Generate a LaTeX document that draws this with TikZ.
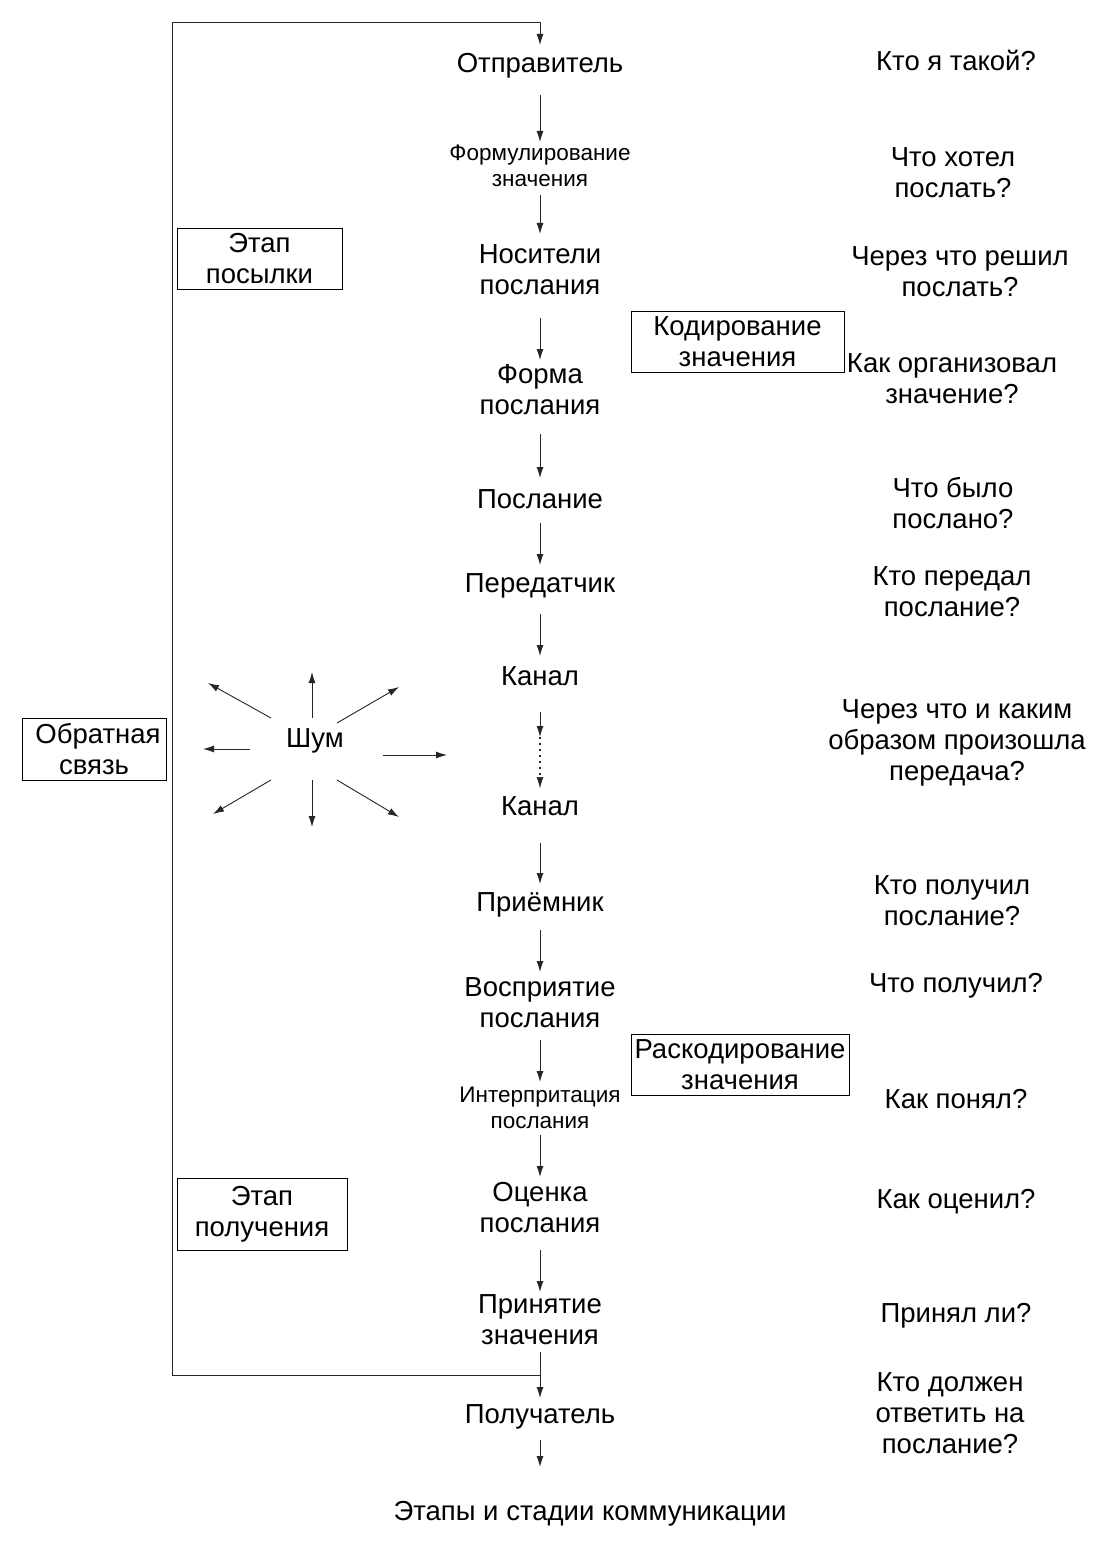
\documentclass[tikz,border=0pt]{standalone}
\usepackage{fontspec}
\setmainfont{Liberation Sans}
\usetikzlibrary{arrows.meta,calc}
\begin{document}
\begin{tikzpicture}[x=1pt,y=-1pt,
  main/.style={font=\fontsize{27.5}{31}\selectfont, align=center, inner sep=0pt},
  small/.style={font=\fontsize{22.5}{26}\selectfont, align=center, inner sep=0pt},
  ques/.style={font=\fontsize{27.5}{31}\selectfont, align=center, inner sep=0pt},
  lbox/.style={draw=black, line width=0.8pt, font=\fontsize{27.5}{31}\selectfont, align=center, inner sep=0pt},
  ln/.style={draw=black!85, line width=0.9pt},
  arr/.style={ln, -{Latex[length=11pt,width=7pt]}},
  dotarr/.style={ln, line width=1.8pt, dash pattern=on 1.8pt off 4.2pt, -{Latex[length=11pt,width=7pt,line width=0.5pt]}}
]
\useasboundingbox (0,0) rectangle (1111,1546);
\fill[white] (0,0) rectangle (1111,1546);

% main column
\node[main]  (A1)  at (540,66)   {Отправитель};
\node[small] (A2)  at (540,166)  {Формулирование\\значения};
\node[main]  (A3)  at (540,270)  {Носители\\послания};
\node[main]  (A4)  at (540,390)  {Форма\\послания};
\node[main]  (A5)  at (540,499)  {Послание};
\node[main]  (A6)  at (540,586)  {Передатчик};
\node[main]  (A7)  at (540,676)  {Канал};
\node[main]  (A8)  at (540,806)  {Канал};
\node[main]  (A9)  at (540,905)  {Приёмник};
\node[main]  (A10) at (540,1003) {Восприятие\\послания};
\node[small] (A11) at (540,1108) {Интерпритация\\послания};
\node[main]  (A12) at (540,1208) {Оценка\\послания};
\node[main]  (A13) at (540,1320) {Принятие\\значения};
\node[main]  (A14) at (540,1417) {Получатель};
\node[main] (cap) at (590,1514) {Этапы и стадии коммуникации};

% arrows of the column
\draw[arr] ($(A1.center)+(0,29)$)  -- ($(A2.center)+(0,-24)$);
\draw[arr] ($(A2.center)+(0,29)$)  -- ($(A3.center)+(0,-36)$);
\draw[arr] ($(A3.center)+(0,48)$)  -- ($(A4.center)+(0,-30)$);
\draw[arr] ($(A4.center)+(0,44)$)  -- ($(A5.center)+(0,-21)$);
\draw[arr] ($(A5.center)+(0,24)$)  -- ($(A6.center)+(0,-21)$);
\draw[arr] ($(A6.center)+(0,28)$)  -- ($(A7.center)+(0,-20)$);
\draw[arr] ($(A7.center)+(0,36)$)  -- coordinate[pos=1] (mid) ($(A7.center)+(0,61)$);
\draw[dotarr] (mid) -- ($(A8.center)+(0,-18)$);
\draw[arr] ($(A8.center)+(0,37)$)  -- ($(A9.center)+(0,-21)$);
\draw[arr] ($(A9.center)+(0,25)$)  -- ($(A10.center)+(0,-31)$);
\draw[arr] ($(A10.center)+(0,37)$) -- ($(A11.center)+(0,-26)$);
\draw[arr] ($(A11.center)+(0,27)$) -- ($(A12.center)+(0,-31)$);
\draw[arr] ($(A12.center)+(0,42)$) -- ($(A13.center)+(0,-28)$);
\draw[arr] ($(A13.center)+(0,32)$) -- ($(A14.center)+(0,-19)$);
\draw[arr] ($(A14.center)+(0,23)$) -- ($(A14.center)+(0,50)$);

% feedback loop
\coordinate (fbB)  at (540,1375);
\coordinate (fbL1) at (172,1375);
\coordinate (fbL2) at (172,22);
\coordinate (fbT)  at (540,22);
\draw[arr] (fbB) -- (fbL1) -- (fbL2) -- (fbT) -- ($(A1.center)+(0,-21)$);

% label boxes
\node[lbox, minimum width=165pt, minimum height=61pt] (B1) at (259.5,258.5) {Этап\\посылки};
\node[lbox, minimum width=213pt, minimum height=61pt] (B2) at (737.5,341.5) {Кодирование\\значения};
\node[lbox, minimum width=144pt, minimum height=62pt] (B3) at (94,749) {\hspace*{8pt}Обратная\\связь};
\node[lbox, minimum width=218pt, minimum height=61pt] (B4) at (740,1064.5) {Раскодирование\\значения};
\node[lbox, minimum width=170pt, minimum height=72pt] (B5) at (262,1214) {Этап\\получения};

% noise
\node[main] (N) at (315,741) {Шум};
\draw[arr] ($(N.center)+(-3,-23)$) -- ($(N.center)+(-3,-69)$);
\draw[arr] ($(N.center)+(-3,39)$)  -- ($(N.center)+(-3,86)$);
\draw[arr] ($(N.center)+(-65,8)$)  -- ($(N.center)+(-112,8)$);
\draw[arr] ($(N.center)+(68,14)$)  -- ($(N.center)+(132,14)$);
\draw[arr] ($(N.center)+(-44,-23)$) -- ($(N.center)+(-107,-58)$);
\draw[arr] ($(N.center)+(22,-18)$) -- ($(N.center)+(84,-54)$);
\draw[arr] ($(N.center)+(-44,39)$) -- ($(N.center)+(-102,73)$);
\draw[arr] ($(N.center)+(22,39)$)  -- ($(N.center)+(84,76)$);

% questions
\node[ques] (Q1)  at (956,60)    {Кто я такой?};
\node[ques] (Q2)  at (953,172.5) {Что хотел\\послать?};
\node[ques] (Q3)  at (960,271.5) {Через что решил\\послать?};
\node[ques] (Q4)  at (952,378.5) {Как организовал\\значение?};
\node[ques] (Q5)  at (953,503)   {Что было\\послано?};
\node[ques] (Q6)  at (952,591.5) {Кто передал\\послание?};
\node[ques] (Q7)  at (957,743)   {Через что и каким\\образом произошла\\передача?};
\node[ques] (Q8)  at (952,901)   {Кто получил\\послание?};
\node[ques] (Q9)  at (956,986)   {Что получил?};
\node[ques] (Q10) at (956,1099)  {Как понял?};
\node[ques] (Q11) at (956,1202)  {Как оценил?};
\node[ques] (Q12) at (956,1316)  {Принял ли?};
\node[ques] (Q13) at (950,1413)  {Кто должен\\ответить на\\послание?};
\end{tikzpicture}
\end{document}
